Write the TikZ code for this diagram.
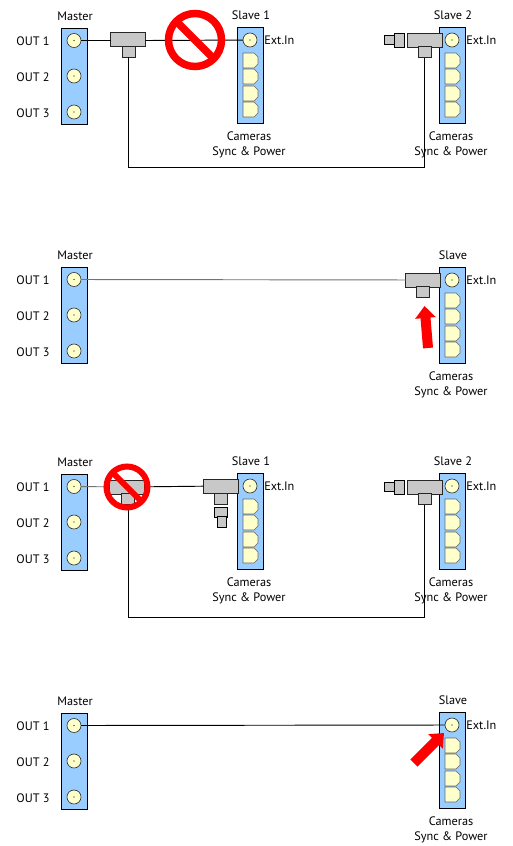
\documentclass[tikz,border=0pt]{standalone}
\usepackage{fontspec}
\setmainfont{PT Sans}
\usetikzlibrary{arrows.meta}
\definecolor{barblue}{HTML}{99CCFF}
\definecolor{conyel}{HTML}{FFFFCC}
\definecolor{tgray}{HTML}{C8C8C8}
\def\px{0.75pt}
\tikzset{
  x=0.75pt,y=-0.75pt,
  lbl/.style={inner sep=0pt,font=\fontsize{9.2}{11}\selectfont,text=black},
  barbox/.style={draw=black,line width=0.65pt,fill=barblue,minimum width=26*\px,minimum height=96*\px,inner sep=0pt,outer sep=0pt},
  conn/.style={circle,draw=black!80,line width=0.5pt,fill=conyel,minimum size=14*\px,inner sep=0pt,outer sep=0pt},
  tbar/.style={draw=black!85,line width=0.5pt,fill=tgray,minimum width=35*\px,minimum height=14*\px,inner sep=0pt,outer sep=0pt},
  tstem/.style={draw=black!85,line width=0.5pt,fill=tgray,minimum width=13*\px,minimum height=11*\px,inner sep=0pt,outer sep=0pt},
  wire/.style={draw=black,line width=0.7pt},
  greywire/.style={draw=black!55,line width=0.7pt},
  nosignring/.style={circle,draw=red,inner sep=0pt,outer sep=0pt},
  redarrow/.style={draw=red,line width=10*\px,-{Triangle[width=20*\px,length=12*\px]}},
  portshape/.style={draw=black!60,line width=0.4pt,fill=conyel,line join=miter},
}
\newcommand{\camport}[2]{\draw[portshape] (#1,#2) -- ++(11,0) -- ++(4,4) -- ++(0,7) -- ++(-4,4) -- ++(-11,0) -- cycle;}
\newcommand{\dotat}[1]{\fill[black] (#1) circle (0.5pt);}
\newcommand{\camports}[2]{\camport{#1}{#2+26}\camport{#1}{#2+42}\camport{#1}{#2+59}\camport{#1}{#2+75}}
\newcommand{\master}[2]{% prefix, top y
  \node[barbox] (#1bar) at (74,#2+48) {};
  \node[conn] (#1a) at (74,#2+12.5) {};
  \node[conn] (#1b) at (74,#2+48) {};
  \node[conn] (#1c) at (74,#2+84) {};
  \dotat{#1a}\dotat{#1b}\dotat{#1c}
  \node[lbl] (#1name) at (75,#2-12) {Master};
  \node[lbl] (#1o1) at (33,#2+13) {OUT 1};
  \node[lbl] (#1o2) at (33,#2+49) {OUT 2};
  \node[lbl] (#1o3) at (33,#2+85) {OUT 3};
}
\newcommand{\slave}[4]{% prefix, bar x-centre, top y, title
  \node[barbox] (#1bar) at (#2,#3+48.5) {};
  \node[conn] (#1a) at (#2,#3+13) {};
  \dotat{#1a}
  \camports{#2-7}{#3}
  \node[lbl] (#1name) at (#2+1,#3-12) {#4};
  \node[lbl,anchor=west] (#1ext) at (#2+14,#3+13) {Ext.In};
  \node[lbl] (#1cam) at (#2-1,#3+109) {Cameras};
  \node[lbl] (#1sync) at (#2-1,#3+125) {Sync \& Power};
}
\newcommand{\bncplug}[2]{% prefix, y
  \node[draw=black,line width=0.4pt,fill=tgray,minimum width=10*\px,minimum height=9*\px,inner sep=0pt,outer sep=0pt] (#1p) at (389,#2) {};
  \node[draw=black,line width=0.4pt,fill=tgray,minimum width=10*\px,minimum height=14*\px,inner sep=0pt,outer sep=0pt] (#1q) at (399,#2) {};
}
\begin{document}
\begin{tikzpicture}
\useasboundingbox (0,0) rectangle (512,846);
\fill[white] (0,0) rectangle (512,846);

% ---------- panel 1
\master{a}{28}
\slave{as}{250}{27}{Slave 1}
\slave{at}{452}{27}{Slave 2}
\node[tbar] (at1) at (128,39) {};
\node[tstem] (as1) at (128.5,51.5) {};
\node[tbar] (at2) at (425,40) {};
\node[tstem] (as2) at (424.5,52) {};
\bncplug{ab}{40}
\coordinate (aw1) at (128.5,167);
\coordinate (aw2) at (424.5,167);
\draw[wire] (aa) -- (at1.west |- aa);
\draw[wire] (at1.east |- aa) -- (asa);
\draw[wire] (as1.south) -- (aw1) -- (aw2) -- (as2.south);
\node[nosignring,line width=7.5*\px,minimum size=53*\px] (an) at (195,40) {};
\draw[red,line width=7.5*\px] (an.135) -- (an.315);

% ---------- panel 2
\master{b}{267}
\slave{bs}{452}{267}{Slave}
\node[tbar] (bt1) at (423,280) {};
\node[tstem] (bs1) at (422.5,291.5) {};
\draw[greywire] (ba) -- (bt1);
\coordinate (bf) at (428,348);
\coordinate (bh) at (424.5,306);
\draw[redarrow] (bf) -- (bh);

% ---------- panel 3
\master{c}{474}
\slave{cs}{250}{473}{Slave 1}
\slave{ct}{452}{473}{Slave 2}
\node[tbar] (ct1) at (127,487) {};
\node[tstem] (cs1) at (128,499) {};
\node[tbar] (ct2) at (221,486) {};
\node[tstem] (cs2) at (220.5,498.5) {};
\node[draw=black,line width=0.45pt,fill=tgray,minimum width=13*\px,minimum height=10*\px,inner sep=0pt,outer sep=0pt] (cd1) at (220.5,512) {};
\node[draw=black,line width=0.45pt,fill=tgray,minimum width=9*\px,minimum height=11*\px,inner sep=0pt,outer sep=0pt] (cd2) at (221.5,522) {};
\node[tbar] (ct3) at (425,487) {};
\node[tstem] (cs3) at (424.5,499) {};
\bncplug{cb}{487}
\coordinate (cw1) at (128,617);
\coordinate (cw2) at (424.5,617);
\draw[greywire] (ca) -- (ct1);
\draw[wire] (ct1) -- (ct2);
\draw[wire] (cs1.south) -- (cw1) -- (cw2) -- (cs3.south);
\node[nosignring,line width=6*\px,minimum size=41*\px] (cn) at (127,487) {};
\draw[red,line width=6*\px] (cn.135) -- (cn.315);

% ---------- panel 4
\master{d}{713}
\slave{ds}{452}{712}{Slave}
\draw[wire] (da) -- (dsa);
\coordinate (df) at (414,763);
\coordinate (dh) at (444,733);
\draw[redarrow] (df) -- (dh);
\end{tikzpicture}
\end{document}
